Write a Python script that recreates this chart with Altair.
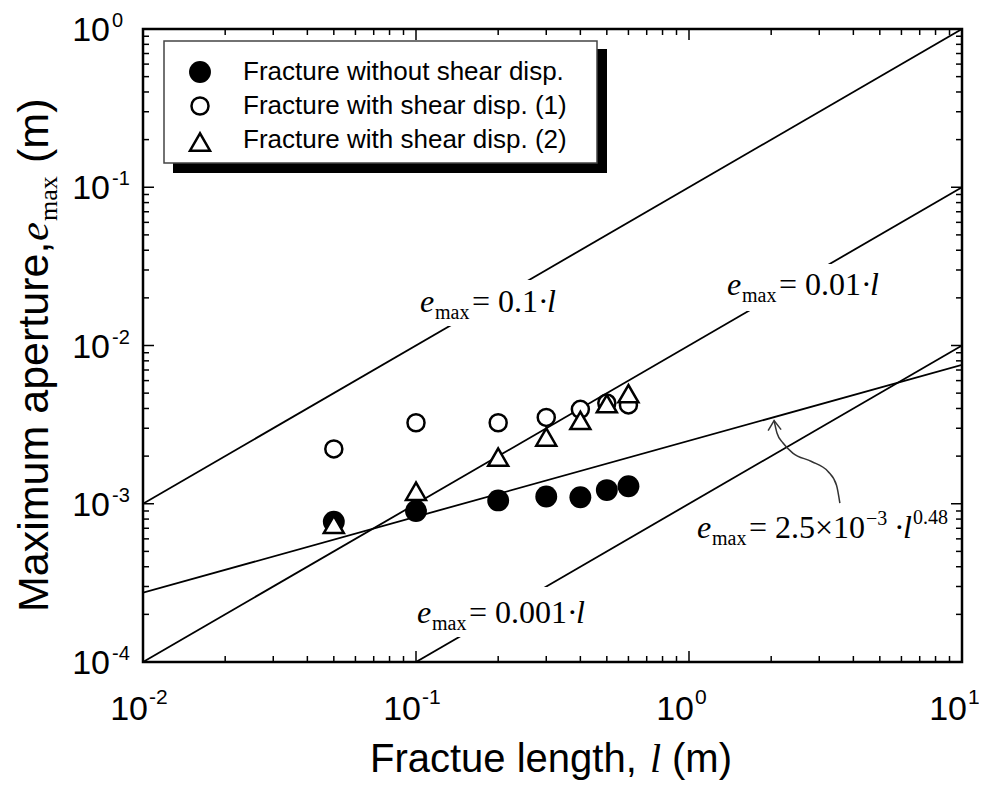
import altair as alt
import pandas as pd

# ---------------- data ----------------
series_names = ["Fracture without shear disp.",
                "Fracture with shear disp. (1)",
                "Fracture with shear disp. (2)"]

length_no_shear = [0.05, 0.1, 0.2, 0.3, 0.4, 0.5, 0.6]
aperture_no_shear = [7.7e-4, 9.0e-4, 1.05e-3, 1.11e-3, 1.10e-3, 1.22e-3, 1.29e-3]

length_shear_1 = [0.05, 0.1, 0.2, 0.3, 0.4, 0.5, 0.6]
aperture_shear_1 = [2.22e-3, 3.25e-3, 3.25e-3, 3.51e-3, 3.95e-3, 4.33e-3, 4.21e-3]

length_shear_2 = [0.05, 0.1, 0.2, 0.3, 0.4, 0.5, 0.6]
aperture_shear_2 = [7.4e-4, 1.2e-3, 1.97e-3, 2.64e-3, 3.36e-3, 4.29e-3, 4.96e-3]

# reference relations  e_max = c * l^p
line_coeffs = [0.1, 0.01, 0.001, 2.5e-3]
line_powers = [1.0, 1.0, 1.0, 0.48]
l_range = [0.01, 10.0]

# axes
x_decades = [0.01, 0.1, 1, 10]
x_exponents = ["-2", "-1", "0", "1"]
y_decades = [1e-4, 1e-3, 1e-2, 1e-1, 1]
y_exponents = ["-4", "-3", "-2", "-1", "0"]
minor_multipliers = [2, 3, 4, 5, 6, 7, 8, 9]

# annotation anchors (data coordinates of the left/baseline of each formula)
label_anchor_l = [0.1034, 1.378, 0.1009, 1.070]
label_anchor_e = [0.01629, 0.02085, 1.764e-4, 6.075e-4]
label_coeff_text = ["0.1", "0.01", "0.001"]

# curved pointer to the power-law line
arrow_l = [3.57, 3.47, 3.23, 2.81, 2.40, 2.21, 2.10, 2.05]
arrow_e = [1.01e-3, 1.31e-3, 1.60e-3, 1.85e-3, 2.09e-3, 2.42e-3, 2.80e-3, 3.35e-3]

# ---------------- chart ----------------
W, H = 819, 633
SANS = "Liberation Sans"
SERIF = "Liberation Serif"

xs = alt.Scale(type="log", domain=[0.01, 10], nice=False)
ys = alt.Scale(type="log", domain=[1e-4, 1], nice=False)


def X(f="l"):
    return alt.X(f"{f}:Q", scale=xs, axis=None)


def Y(f="e"):
    return alt.Y(f"{f}:Q", scale=ys, axis=None)


one = pd.DataFrame({"k": [0]})
layers = []

# reference lines
rows = []
for i, (c, p) in enumerate(zip(line_coeffs, line_powers)):
    for l in l_range:
        rows.append({"l": l, "e": c * l ** p, "model": i})
df_lines = pd.DataFrame(rows)
layers.append(alt.Chart(df_lines).mark_line(color="black", strokeWidth=1.8, clip=True)
              .encode(x=X(), y=Y(), detail="model:N"))

# formula labels with white backgrounds
boxes = ["M-6,-32H140V14H-6Z", "M-6,-31H160V16H-6Z", "M-4,-36H182V14H-4Z", "M-5,-35H255V12H-5Z"]
for i in range(4):
    adf = pd.DataFrame({"l": [label_anchor_l[i]], "e": [label_anchor_e[i]]})
    base = alt.Chart(adf)
    layers.append(base.mark_point(shape=boxes[i], size=4, filled=True, color="white",
                                  opacity=1, strokeWidth=0).encode(x=X(), y=Y()))
    pieces = [("e", 0, 0, 32, "italic"), ("max", 15, 7, 20, "normal")]
    if i < 3:
        txt = "= " + label_coeff_text[i] + "·"
        pieces.append((txt, 52, 0, 32, "normal"))
        pieces.append(("l", [127, 143, 159][i], 0, 32, "italic"))
    else:
        pieces += [("= 2.5×10", 52, 0, 32, "normal"), ("−3", 169, -13, 20, "normal"),
                   ("·", 197, 0, 32, "normal"), ("l", 206, 0, 32, "italic"),
                   ("0.48", 216, -14, 20, "normal")]
    for t, dx, dy, fs, st in pieces:
        layers.append(base.mark_text(text=t, font=SERIF, fontSize=fs, fontStyle=st,
                                     align="left", baseline="alphabetic", dx=dx, dy=dy,
                                     color="black").encode(x=X(), y=Y()))

# curved pointer
adf = pd.DataFrame({"l": arrow_l, "e": arrow_e})
layers.append(alt.Chart(adf).mark_line(color="#333333", strokeWidth=1.5, interpolate="monotone")
              .encode(x=X(), y=Y()))
tip = pd.DataFrame({"l": [arrow_l[-1]], "e": [arrow_e[-1]]})
layers.append(alt.Chart(tip).mark_point(shape="M-6,10L0,0L7,9", size=4, filled=False,
                                        color="#333333", strokeWidth=1.5, opacity=1)
              .encode(x=X(), y=Y()))

# data points
d0 = pd.DataFrame({"l": length_no_shear, "e": aperture_no_shear})
d1 = pd.DataFrame({"l": length_shear_1, "e": aperture_shear_1})
d2 = pd.DataFrame({"l": length_shear_2, "e": aperture_shear_2})
layers.append(alt.Chart(d0).mark_point(shape="circle", filled=True, size=480, color="black",
                                       opacity=1).encode(x=X(), y=Y()))
layers.append(alt.Chart(d1).mark_point(shape="circle", filled=True, size=290, fill="white",
                                       stroke="black", strokeWidth=2.5, opacity=1)
              .encode(x=X(), y=Y()))
layers.append(alt.Chart(d2).mark_point(shape="triangle-up", filled=True, size=400, fill="white",
                                       stroke="black", strokeWidth=2.5, opacity=1)
              .encode(x=X(), y=Y()))

# ticks (inward, all four sides)
x_minor = [m * d for d in x_decades[:-1] for m in minor_multipliers]
y_minor = [m * d for d in y_decades[:-1] for m in minor_multipliers]
dxm = pd.DataFrame({"l": x_decades})
dxn = pd.DataFrame({"l": x_minor})
dym = pd.DataFrame({"e": y_decades})
dyn = pd.DataFrame({"e": y_minor})
for d, ln in ((dxm, 11), (dxn, 6)):
    layers.append(alt.Chart(d).mark_rule(color="black", strokeWidth=1.5)
                  .encode(x=X(), y=alt.value(0), y2=alt.value(ln)))
    layers.append(alt.Chart(d).mark_rule(color="black", strokeWidth=1.5)
                  .encode(x=X(), y=alt.value(H), y2=alt.value(H - ln)))
for d, ln in ((dym, 11), (dyn, 6)):
    layers.append(alt.Chart(d).mark_rule(color="black", strokeWidth=1.5)
                  .encode(y=Y(), x=alt.value(0), x2=alt.value(ln)))
    layers.append(alt.Chart(d).mark_rule(color="black", strokeWidth=1.5)
                  .encode(y=Y(), x=alt.value(W), x2=alt.value(W - ln)))

# tick labels
xl = pd.DataFrame({"l": x_decades, "exp": x_exponents})
layers.append(alt.Chart(xl).mark_text(text="10", font=SANS, fontSize=34, align="right",
                                      baseline="alphabetic", dx=5, color="black")
              .encode(x=X(), y=alt.value(H + 58)))
layers.append(alt.Chart(xl).mark_text(font=SANS, fontSize=21, align="left",
                                      baseline="alphabetic", dx=6, color="black")
              .encode(x=X(), y=alt.value(H + 42), text="exp:N"))
yl = pd.DataFrame({"e": y_decades, "exp": y_exponents})
layers.append(alt.Chart(yl).mark_text(text="10", font=SANS, fontSize=34, align="right",
                                      baseline="alphabetic", dy=12, color="black")
              .encode(x=alt.value(-33), y=Y()))
layers.append(alt.Chart(yl).mark_text(font=SANS, fontSize=20, align="left",
                                      baseline="alphabetic", dy=-2, color="black")
              .encode(x=alt.value(-31), y=Y(), text="exp:N"))

# axis titles
base1 = alt.Chart(one)
xt_y = H + 110
layers.append(base1.mark_text(text="Fractue length,", font=SANS, fontSize=40, align="left",
                              baseline="alphabetic", color="black")
              .encode(x=alt.value(227), y=alt.value(xt_y)))
layers.append(base1.mark_text(text="l", font=SERIF, fontSize=40, fontStyle="italic", align="left",
                              baseline="alphabetic", color="black")
              .encode(x=alt.value(507), y=alt.value(xt_y)))
layers.append(base1.mark_text(text="(m)", font=SANS, fontSize=40, align="left",
                              baseline="alphabetic", color="black")
              .encode(x=alt.value(529), y=alt.value(xt_y)))

yt_pieces = [("Maximum aperture,", 0, 0, SANS, 43, "normal"),
             ("e", 371, 0, SERIF, 43, "italic"),
             ("max", 391, 9, SERIF, 26, "normal"),
             ("(m)", 449, 0, SANS, 43, "normal")]
for t, dx, dy, f, fs, st in yt_pieces:
    layers.append(base1.mark_text(text=t, font=f, fontSize=fs, fontStyle=st, angle=270,
                                  align="left", baseline="alphabetic", dx=dx, dy=dy,
                                  color="black")
                  .encode(x=alt.value(-95), y=alt.value(583)))

# legend
layers.append(base1.mark_rect(color="black").encode(
    x=alt.value(30), x2=alt.value(464), y=alt.value(20), y2=alt.value(144)))
layers.append(base1.mark_rect(fill="white", stroke="#444444", strokeWidth=1.5).encode(
    x=alt.value(21), x2=alt.value(454), y=alt.value(12), y2=alt.value(134)))
leg_rows = [43, 77, 111]
layers.append(base1.mark_point(shape="circle", filled=True, size=480, color="black", opacity=1)
              .encode(x=alt.value(57), y=alt.value(leg_rows[0])))
layers.append(base1.mark_point(shape="circle", filled=True, size=290, fill="white",
                               stroke="black", strokeWidth=2.5, opacity=1)
              .encode(x=alt.value(57), y=alt.value(leg_rows[1])))
layers.append(base1.mark_point(shape="triangle-up", filled=True, size=400, fill="white",
                               stroke="black", strokeWidth=2.5, opacity=1)
              .encode(x=alt.value(57), y=alt.value(leg_rows[2] + 2)))
for name, yy in zip(series_names, leg_rows):
    layers.append(base1.mark_text(text=name, font=SANS, fontSize=26, align="left",
                                  baseline="middle", color="black")
                  .encode(x=alt.value(100), y=alt.value(yy)))

chart = alt.layer(*layers).properties(
    width=W, height=H,
    autosize=alt.AutoSizeParams(type="none"),
    padding={"left": 135, "top": 21, "right": 17, "bottom": 119},
    background="white",
).configure_view(stroke="black", strokeWidth=2.5)

chart.save("out.html", embed_options={"renderer": "svg", "actions": False})
